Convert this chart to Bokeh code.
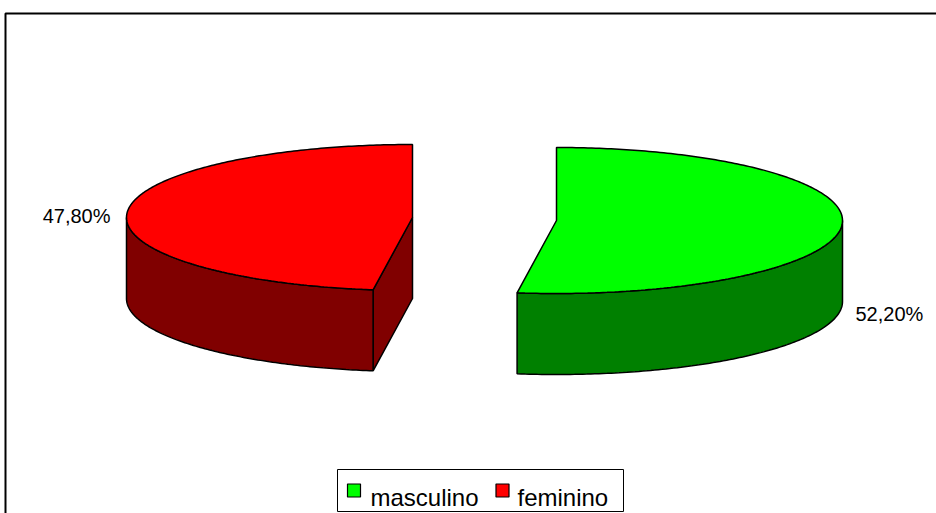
import numpy as np
from bokeh.plotting import figure
from bokeh.models import Range1d
from bokeh.embed import file_html
from bokeh.resources import INLINE
from bokeh.core.properties import value

# ---- data ----
categories = ["masculino", "feminino"]
shares = [52.2, 47.8]
top_colors = ["#00FF00", "#FF0000"]
side_colors = ["#008000", "#800000"]

# ---- layout (screen pixel space) ----
W, H = 936, 513
centers = [(556.0, 220.0), (412.0, 217.0)]
RX, RY, DEPTH = 286.0, 73.0, 81.0

p = figure(width=W, height=H, x_range=Range1d(0, W), y_range=Range1d(H, 0),
           output_backend="svg", toolbar_location=None, min_border=0)
p.axis.visible = False
p.grid.visible = False
p.outline_line_color = None
p.background_fill_color = "white"
p.border_fill_color = "white"

# chart area border
p.quad(left=5, right=2000, top=13, bottom=2000, fill_color=None,
       line_color="black", line_width=2)


def rim(cx, cy, t0, t1, dy=0.0, n=120):
    t = np.radians(np.linspace(t0, t1, n))
    return cx + RX * np.sin(t), cy - RY * np.cos(t) + dy


total = sum(shares)
starts, ends = [], []
acc = 0.0
for s in shares:
    starts.append(acc / total * 360.0)
    acc += s
    ends.append(acc / total * 360.0)

for i in range(len(shares)):
    cx, cy = centers[i]
    a0, a1 = starts[i], ends[i]
    # radial faces
    for ang, vis in ((a0, np.sin(np.radians(a0)) < -1e-6), (a1, np.sin(np.radians(a1)) > 1e-6)):
        if vis:
            rx_, ry_ = rim(cx, cy, ang, ang, n=1)
            p.patch([cx, rx_[0], rx_[0], cx], [cy, ry_[0], ry_[0] + DEPTH, cy + DEPTH],
                    fill_color=side_colors[i], line_color="black", line_width=1.5)
    # curved side (front half)
    lo, hi = max(a0, 90.0), min(a1, 270.0)
    if hi > lo:
        xt, yt = rim(cx, cy, lo, hi)
        xb, yb = rim(cx, cy, hi, lo, dy=DEPTH)
        p.patch(list(xt) + list(xb), list(yt) + list(yb),
                fill_color=side_colors[i], line_color="black", line_width=1.5)
    # top face
    xt, yt = rim(cx, cy, a0, a1, n=240)
    p.patch([cx] + list(xt) + [cx], [cy] + list(yt) + [cy],
            fill_color=top_colors[i], line_color="black", line_width=1.5)

# data labels
lab = [f"{s:.2f}%".replace(".", ",") for s in shares]
p.text(x=[centers[0][0] + RX + 13], y=[centers[0][1] + DEPTH + 12], text=[lab[0]],
       text_font=value("Liberation Sans"), text_font_size="20px", text_color="black",
       text_align="left", text_baseline="alphabetic")
p.text(x=[centers[1][0] - RX - 16], y=[centers[1][1] - 2], text=[lab[1]],
       text_font=value("Liberation Sans"), text_font_size="20px", text_color="black",
       text_align="right", text_baseline="alphabetic")

# legend
p.quad(left=337, right=623, top=469, bottom=511, fill_color="white",
       line_color="black", line_width=1)
sq_x = [353.5, 502.0]
tx_x = [370.0, 517.0]
p.rect(x=sq_x, y=[490, 490], width=13, height=13, fill_color=top_colors,
       line_color="black", line_width=1.2)
p.text(x=tx_x, y=[497, 497], text=categories, text_font=value("Liberation Sans"),
       text_font_size="24px", text_color="black", text_align="left",
       text_baseline="alphabetic")

open("out.html", "w").write(file_html(p, INLINE))
